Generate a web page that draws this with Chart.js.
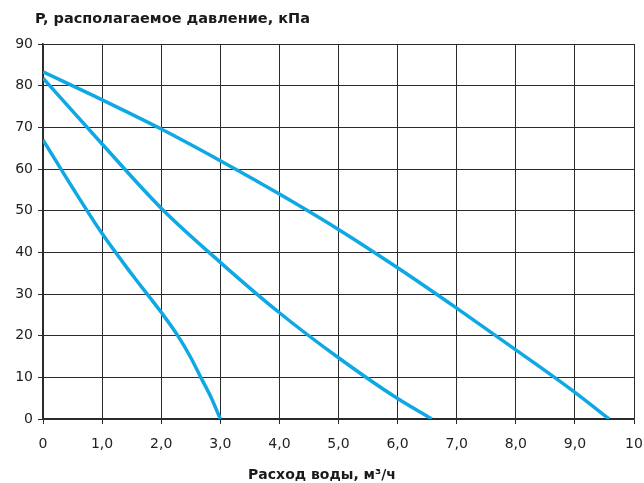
<!DOCTYPE html>
<html>
<head>
<meta charset="utf-8">
<script src="https://cdn.jsdelivr.net/npm/chart.js@4.4.0/dist/chart.umd.min.js"></script>
<style>
  html, body { margin: 0; padding: 0; background: #fff; }
  #wrap { width: 644px; height: 483px; position: relative; }
</style>
</head>
<body>
<div id="wrap"><canvas id="myChart" width="644" height="483"></canvas></div>
<script>
// values (flow m3/h, pressure kPa)
const flowTop = [0, 1, 2, 3, 4, 5, 6, 7, 8, 9, 9.58];
const pressTop = [83.3, 76.6, 69.6, 62.0, 54.0, 45.5, 36.3, 26.6, 16.6, 6.4, 0];

const flowMid = [0, 1, 2, 3, 4, 5, 6, 6.58];
const pressMid = [81.8, 66, 50.6, 37.6, 25.5, 14.7, 4.9, 0];

const flowLow = [0, 0.5, 1, 1.5, 2, 2.28, 2.49, 2.67, 2.85, 3.0];
const pressLow = [67, 55.5, 44.5, 34.8, 25.6, 20, 15, 10, 5, 0];

const xMax = 10;
const yMax = 90;
const titleText = 'P, располагаемое давление, кПа';
const xTitleText = 'Расход воды, м³/ч';

const lineColor = '#0ea8e4';
const gridColor = '#2a2a2a';
const font = '"DejaVu Sans", sans-serif';

function pts(xs, ys) {
    return xs.map((x, i) => ({ x: x, y: ys[i] }));
}

function makeSet(xs, ys) {
    return {
        data: pts(xs, ys),
        borderColor: lineColor,
        borderWidth: 3.5,
        pointRadius: 0,
        fill: false,
        cubicInterpolationMode: 'monotone'
    };
}

const textPlugin = {
    id: 'texts',
    afterDraw(chart) {
        const ctx = chart.ctx;
        ctx.save();
        ctx.fillStyle = '#1a1a1a';
        ctx.font = 'bold 14.5px ' + font;
        ctx.textBaseline = 'alphabetic';
        ctx.textAlign = 'left';
        ctx.fillText(titleText, 35, 23);
        ctx.font = 'bold 14px ' + font;
        ctx.textAlign = 'center';
        ctx.fillText(xTitleText, 322, 479);
        ctx.restore();
    }
};

const ctx = document.getElementById('myChart').getContext('2d');
const myChart = new Chart(ctx, {
    type: 'line',
    data: {
        datasets: [
            makeSet(flowTop, pressTop),
            makeSet(flowMid, pressMid),
            makeSet(flowLow, pressLow)
        ]
    },
    options: {
        responsive: false,
        animation: false,
        layout: { padding: { top: 44, right: 10, left: 0, bottom: 0 } },
        plugins: {
            legend: { display: false },
            tooltip: { enabled: false },
            title: { display: false }
        },
        scales: {
            x: {
                type: 'linear',
                min: 0,
                max: xMax,
                afterFit(scale) {
                    scale.height = 64;
                    scale.paddingLeft = 0;
                    scale.paddingRight = 0;
                },
                grid: { color: gridColor, lineWidth: 1, tickLength: 5 },
                border: { color: gridColor, width: 1.5 },
                ticks: {
                    stepSize: 1,
                    color: '#222',
                    padding: 12,
                    font: { family: font, size: 14 },
                    callback: function(v) {
                        if (v === 0 || v === xMax) return String(v);
                        return v.toFixed(1).replace('.', ',');
                    }
                }
            },
            y: {
                min: 0,
                max: yMax,
                afterFit(scale) {
                    scale.width = 43;
                    scale.paddingTop = 0;
                    scale.paddingBottom = 0;
                },
                grid: { color: gridColor, lineWidth: 1, tickLength: 5 },
                border: { color: gridColor, width: 1.5 },
                ticks: {
                    stepSize: 10,
                    color: '#222',
                    padding: 5,
                    font: { family: font, size: 14 }
                }
            }
        }
    },
    plugins: [textPlugin]
});
</script>
</body>
</html>
